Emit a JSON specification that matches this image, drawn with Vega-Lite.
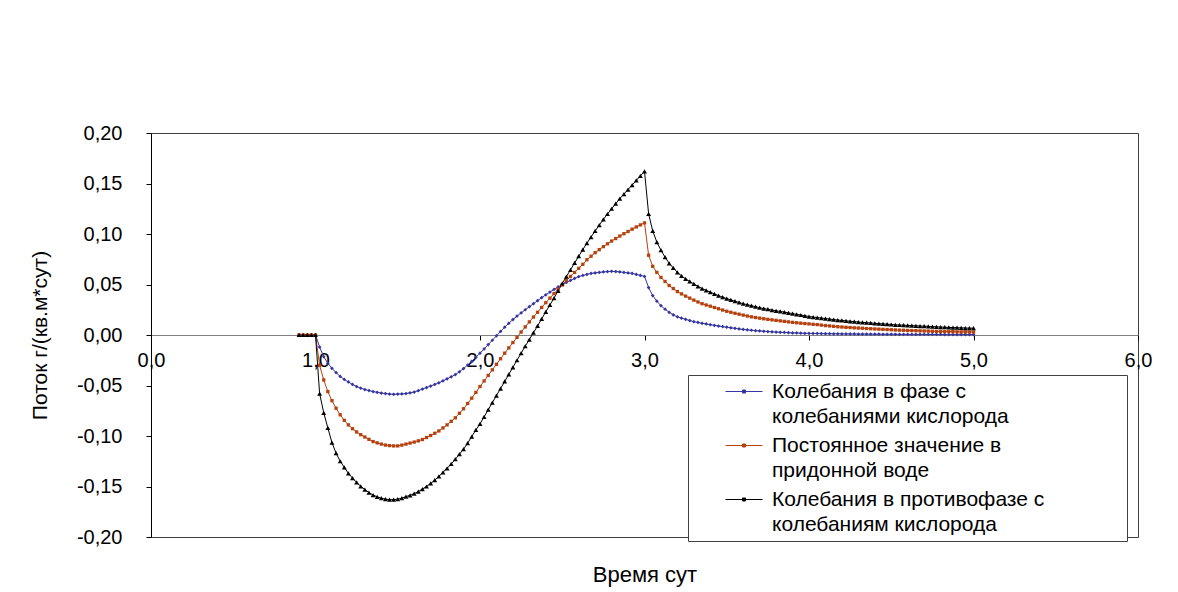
{
"$schema": "https://vega.github.io/schema/vega-lite/v6.json",
"width": 987,
"height": 404,
"autosize": "none",
"padding": {"left": 151, "top": 133, "right": 40, "bottom": 55},
"background": "white",
"config": {"font": "Liberation Sans", "view": {"stroke": "#404040", "strokeWidth": 1}},
"data": {"values": [
{"t":0.9,"s":"A","v":0},{"t":0.925,"s":"A","v":0},{"t":0.95,"s":"A","v":0},{"t":0.975,"s":"A","v":0},{"t":1,"s":"A","v":0},
{"t":1.025,"s":"A","v":-0.012},{"t":1.05,"s":"A","v":-0.0215},{"t":1.075,"s":"A","v":-0.028},{"t":1.1,"s":"A","v":-0.033},{"t":1.125,"s":"A","v":-0.0372},{"t":1.15,"s":"A","v":-0.041},{"t":1.175,"s":"A","v":-0.044},{"t":1.2,"s":"A","v":-0.0465},{"t":1.225,"s":"A","v":-0.049},{"t":1.25,"s":"A","v":-0.051},{"t":1.275,"s":"A","v":-0.0527},{"t":1.3,"s":"A","v":-0.054},{"t":1.325,"s":"A","v":-0.055},{"t":1.35,"s":"A","v":-0.056},{"t":1.375,"s":"A","v":-0.0568},{"t":1.4,"s":"A","v":-0.0575},{"t":1.425,"s":"A","v":-0.058},{"t":1.45,"s":"A","v":-0.0585},{"t":1.475,"s":"A","v":-0.0587},{"t":1.5,"s":"A","v":-0.0585},{"t":1.525,"s":"A","v":-0.0583},{"t":1.55,"s":"A","v":-0.058},{"t":1.575,"s":"A","v":-0.0573},{"t":1.6,"s":"A","v":-0.0565},{"t":1.625,"s":"A","v":-0.0551},{"t":1.65,"s":"A","v":-0.0535},{"t":1.675,"s":"A","v":-0.052},{"t":1.7,"s":"A","v":-0.0505},{"t":1.725,"s":"A","v":-0.049},{"t":1.75,"s":"A","v":-0.0473},{"t":1.775,"s":"A","v":-0.0454},{"t":1.8,"s":"A","v":-0.0434},{"t":1.825,"s":"A","v":-0.0414},{"t":1.85,"s":"A","v":-0.0392},{"t":1.875,"s":"A","v":-0.0364},{"t":1.9,"s":"A","v":-0.0332},{"t":1.925,"s":"A","v":-0.0297},{"t":1.95,"s":"A","v":-0.026},{"t":1.975,"s":"A","v":-0.0221},{"t":2,"s":"A","v":-0.018},{"t":2.025,"s":"A","v":-0.0138},{"t":2.05,"s":"A","v":-0.0095},{"t":2.075,"s":"A","v":-0.0052},{"t":2.1,"s":"A","v":-0.0008},{"t":2.125,"s":"A","v":0.0035},{"t":2.15,"s":"A","v":0.0077},{"t":2.175,"s":"A","v":0.0116},{"t":2.2,"s":"A","v":0.0153},{"t":2.225,"s":"A","v":0.0187},{"t":2.25,"s":"A","v":0.0219},{"t":2.275,"s":"A","v":0.025},{"t":2.3,"s":"A","v":0.028},{"t":2.325,"s":"A","v":0.031},{"t":2.35,"s":"A","v":0.034},{"t":2.375,"s":"A","v":0.037},{"t":2.4,"s":"A","v":0.0398},{"t":2.425,"s":"A","v":0.0425},{"t":2.45,"s":"A","v":0.0451},{"t":2.475,"s":"A","v":0.0476},{"t":2.5,"s":"A","v":0.05},{"t":2.525,"s":"A","v":0.052},{"t":2.55,"s":"A","v":0.054},{"t":2.575,"s":"A","v":0.056},{"t":2.6,"s":"A","v":0.0578},{"t":2.625,"s":"A","v":0.059},{"t":2.65,"s":"A","v":0.06},{"t":2.675,"s":"A","v":0.061},{"t":2.7,"s":"A","v":0.0615},{"t":2.725,"s":"A","v":0.062},{"t":2.75,"s":"A","v":0.0625},{"t":2.775,"s":"A","v":0.0628},{"t":2.8,"s":"A","v":0.063},{"t":2.825,"s":"A","v":0.0628},{"t":2.85,"s":"A","v":0.0625},{"t":2.875,"s":"A","v":0.062},{"t":2.9,"s":"A","v":0.0615},{"t":2.925,"s":"A","v":0.061},{"t":2.95,"s":"A","v":0.06},{"t":2.975,"s":"A","v":0.059},{"t":3,"s":"A","v":0.058},
{"t":3.025,"s":"A","v":0.047},{"t":3.05,"s":"A","v":0.039},{"t":3.075,"s":"A","v":0.0335},{"t":3.1,"s":"A","v":0.029},{"t":3.125,"s":"A","v":0.0255},{"t":3.15,"s":"A","v":0.0225},{"t":3.175,"s":"A","v":0.02},{"t":3.2,"s":"A","v":0.018},{"t":3.225,"s":"A","v":0.0167},{"t":3.25,"s":"A","v":0.0155},{"t":3.275,"s":"A","v":0.0143},{"t":3.3,"s":"A","v":0.0132},{"t":3.325,"s":"A","v":0.0124},{"t":3.35,"s":"A","v":0.0116},{"t":3.375,"s":"A","v":0.0109},{"t":3.4,"s":"A","v":0.0102},{"t":3.425,"s":"A","v":0.0095},{"t":3.45,"s":"A","v":0.0089},{"t":3.475,"s":"A","v":0.0083},{"t":3.5,"s":"A","v":0.0077},{"t":3.525,"s":"A","v":0.0071},{"t":3.55,"s":"A","v":0.0066},{"t":3.575,"s":"A","v":0.006},{"t":3.6,"s":"A","v":0.0055},{"t":3.625,"s":"A","v":0.0051},{"t":3.65,"s":"A","v":0.0047},{"t":3.675,"s":"A","v":0.0043},{"t":3.7,"s":"A","v":0.004},{"t":3.725,"s":"A","v":0.0037},{"t":3.75,"s":"A","v":0.0034},{"t":3.775,"s":"A","v":0.0031},{"t":3.8,"s":"A","v":0.0029},{"t":3.825,"s":"A","v":0.0027},{"t":3.85,"s":"A","v":0.0025},{"t":3.875,"s":"A","v":0.0023},{"t":3.9,"s":"A","v":0.0021},{"t":3.925,"s":"A","v":0.002},{"t":3.95,"s":"A","v":0.0018},{"t":3.975,"s":"A","v":0.0017},{"t":4,"s":"A","v":0.0016},{"t":4.025,"s":"A","v":0.0015},{"t":4.05,"s":"A","v":0.0015},{"t":4.075,"s":"A","v":0.0014},{"t":4.1,"s":"A","v":0.0013},{"t":4.125,"s":"A","v":0.0013},{"t":4.15,"s":"A","v":0.0012},{"t":4.175,"s":"A","v":0.0012},{"t":4.2,"s":"A","v":0.0011},{"t":4.225,"s":"A","v":0.0011},{"t":4.25,"s":"A","v":0.001},{"t":4.275,"s":"A","v":0.001},{"t":4.3,"s":"A","v":0.0009},{"t":4.325,"s":"A","v":0.0009},{"t":4.35,"s":"A","v":0.0009},{"t":4.375,"s":"A","v":0.0008},{"t":4.4,"s":"A","v":0.0008},{"t":4.425,"s":"A","v":0.0008},{"t":4.45,"s":"A","v":0.0007},{"t":4.475,"s":"A","v":0.0007},{"t":4.5,"s":"A","v":0.0007},{"t":4.525,"s":"A","v":0.0007},{"t":4.55,"s":"A","v":0.0006},{"t":4.575,"s":"A","v":0.0006},{"t":4.6,"s":"A","v":0.0006},{"t":4.625,"s":"A","v":0.0006},{"t":4.65,"s":"A","v":0.0005},{"t":4.675,"s":"A","v":0.0005},{"t":4.7,"s":"A","v":0.0005},{"t":4.725,"s":"A","v":0.0005},{"t":4.75,"s":"A","v":0.0005},{"t":4.775,"s":"A","v":0.0005},{"t":4.8,"s":"A","v":0.0005},{"t":4.825,"s":"A","v":0.0004},{"t":4.85,"s":"A","v":0.0004},{"t":4.875,"s":"A","v":0.0004},{"t":4.9,"s":"A","v":0.0004},{"t":4.925,"s":"A","v":0.0004},{"t":4.95,"s":"A","v":0.0004},{"t":4.975,"s":"A","v":0.0004},{"t":5,"s":"A","v":0.0004},
{"t":0.9,"s":"B","v":0},{"t":0.925,"s":"B","v":0},{"t":0.95,"s":"B","v":0},{"t":0.975,"s":"B","v":0},{"t":1,"s":"B","v":0},
{"t":1.025,"s":"B","v":-0.03},{"t":1.05,"s":"B","v":-0.0445},{"t":1.075,"s":"B","v":-0.056},{"t":1.1,"s":"B","v":-0.065},{"t":1.125,"s":"B","v":-0.0725},{"t":1.15,"s":"B","v":-0.079},{"t":1.175,"s":"B","v":-0.0845},{"t":1.2,"s":"B","v":-0.089},{"t":1.225,"s":"B","v":-0.0928},{"t":1.25,"s":"B","v":-0.096},{"t":1.275,"s":"B","v":-0.0987},{"t":1.3,"s":"B","v":-0.101},{"t":1.325,"s":"B","v":-0.1033},{"t":1.35,"s":"B","v":-0.1055},{"t":1.375,"s":"B","v":-0.1068},{"t":1.4,"s":"B","v":-0.108},{"t":1.425,"s":"B","v":-0.109},{"t":1.45,"s":"B","v":-0.1095},{"t":1.475,"s":"B","v":-0.1098},{"t":1.5,"s":"B","v":-0.1098},{"t":1.525,"s":"B","v":-0.109},{"t":1.55,"s":"B","v":-0.108},{"t":1.575,"s":"B","v":-0.107},{"t":1.6,"s":"B","v":-0.106},{"t":1.625,"s":"B","v":-0.1048},{"t":1.65,"s":"B","v":-0.1035},{"t":1.675,"s":"B","v":-0.1015},{"t":1.7,"s":"B","v":-0.0995},{"t":1.725,"s":"B","v":-0.0973},{"t":1.75,"s":"B","v":-0.095},{"t":1.775,"s":"B","v":-0.092},{"t":1.8,"s":"B","v":-0.089},{"t":1.825,"s":"B","v":-0.0855},{"t":1.85,"s":"B","v":-0.082},{"t":1.875,"s":"B","v":-0.0775},{"t":1.9,"s":"B","v":-0.073},{"t":1.925,"s":"B","v":-0.0678},{"t":1.95,"s":"B","v":-0.0625},{"t":1.975,"s":"B","v":-0.0568},{"t":2,"s":"B","v":-0.051},{"t":2.025,"s":"B","v":-0.0455},{"t":2.05,"s":"B","v":-0.04},{"t":2.075,"s":"B","v":-0.0345},{"t":2.1,"s":"B","v":-0.029},{"t":2.125,"s":"B","v":-0.0235},{"t":2.15,"s":"B","v":-0.018},{"t":2.175,"s":"B","v":-0.0128},{"t":2.2,"s":"B","v":-0.0075},{"t":2.225,"s":"B","v":-0.0023},{"t":2.25,"s":"B","v":0.003},{"t":2.275,"s":"B","v":0.008},{"t":2.3,"s":"B","v":0.013},{"t":2.325,"s":"B","v":0.0178},{"t":2.35,"s":"B","v":0.0225},{"t":2.375,"s":"B","v":0.0273},{"t":2.4,"s":"B","v":0.032},{"t":2.425,"s":"B","v":0.0365},{"t":2.45,"s":"B","v":0.041},{"t":2.475,"s":"B","v":0.0453},{"t":2.5,"s":"B","v":0.0495},{"t":2.525,"s":"B","v":0.0538},{"t":2.55,"s":"B","v":0.058},{"t":2.575,"s":"B","v":0.062},{"t":2.6,"s":"B","v":0.066},{"t":2.625,"s":"B","v":0.07},{"t":2.65,"s":"B","v":0.0745},{"t":2.675,"s":"B","v":0.078},{"t":2.7,"s":"B","v":0.0815},{"t":2.725,"s":"B","v":0.0845},{"t":2.75,"s":"B","v":0.0875},{"t":2.775,"s":"B","v":0.0903},{"t":2.8,"s":"B","v":0.093},{"t":2.825,"s":"B","v":0.0955},{"t":2.85,"s":"B","v":0.098},{"t":2.875,"s":"B","v":0.1003},{"t":2.9,"s":"B","v":0.1025},{"t":2.925,"s":"B","v":0.1048},{"t":2.95,"s":"B","v":0.107},{"t":2.975,"s":"B","v":0.109},{"t":3,"s":"B","v":0.111},
{"t":3.025,"s":"B","v":0.079},{"t":3.05,"s":"B","v":0.068},{"t":3.075,"s":"B","v":0.062},{"t":3.1,"s":"B","v":0.057},{"t":3.125,"s":"B","v":0.053},{"t":3.15,"s":"B","v":0.049},{"t":3.175,"s":"B","v":0.046},{"t":3.2,"s":"B","v":0.043},{"t":3.225,"s":"B","v":0.0407},{"t":3.25,"s":"B","v":0.0385},{"t":3.275,"s":"B","v":0.0365},{"t":3.3,"s":"B","v":0.0345},{"t":3.325,"s":"B","v":0.0327},{"t":3.35,"s":"B","v":0.031},{"t":3.375,"s":"B","v":0.0297},{"t":3.4,"s":"B","v":0.0285},{"t":3.425,"s":"B","v":0.0272},{"t":3.45,"s":"B","v":0.026},{"t":3.475,"s":"B","v":0.0247},{"t":3.5,"s":"B","v":0.0235},{"t":3.525,"s":"B","v":0.0225},{"t":3.55,"s":"B","v":0.0215},{"t":3.575,"s":"B","v":0.0206},{"t":3.6,"s":"B","v":0.0197},{"t":3.625,"s":"B","v":0.0188},{"t":3.65,"s":"B","v":0.018},{"t":3.675,"s":"B","v":0.0173},{"t":3.7,"s":"B","v":0.0167},{"t":3.725,"s":"B","v":0.0161},{"t":3.75,"s":"B","v":0.0155},{"t":3.775,"s":"B","v":0.015},{"t":3.8,"s":"B","v":0.0145},{"t":3.825,"s":"B","v":0.014},{"t":3.85,"s":"B","v":0.0135},{"t":3.875,"s":"B","v":0.013},{"t":3.9,"s":"B","v":0.0125},{"t":3.925,"s":"B","v":0.0121},{"t":3.95,"s":"B","v":0.0117},{"t":3.975,"s":"B","v":0.0113},{"t":4,"s":"B","v":0.011},{"t":4.025,"s":"B","v":0.0106},{"t":4.05,"s":"B","v":0.0103},{"t":4.075,"s":"B","v":0.0098},{"t":4.1,"s":"B","v":0.0093},{"t":4.125,"s":"B","v":0.009},{"t":4.15,"s":"B","v":0.0086},{"t":4.175,"s":"B","v":0.0082},{"t":4.2,"s":"B","v":0.0079},{"t":4.225,"s":"B","v":0.0076},{"t":4.25,"s":"B","v":0.0074},{"t":4.275,"s":"B","v":0.0071},{"t":4.3,"s":"B","v":0.0069},{"t":4.325,"s":"B","v":0.0067},{"t":4.35,"s":"B","v":0.0064},{"t":4.375,"s":"B","v":0.0062},{"t":4.4,"s":"B","v":0.006},{"t":4.425,"s":"B","v":0.0058},{"t":4.45,"s":"B","v":0.0056},{"t":4.475,"s":"B","v":0.0054},{"t":4.5,"s":"B","v":0.0052},{"t":4.525,"s":"B","v":0.005},{"t":4.55,"s":"B","v":0.0048},{"t":4.575,"s":"B","v":0.0047},{"t":4.6,"s":"B","v":0.0045},{"t":4.625,"s":"B","v":0.0044},{"t":4.65,"s":"B","v":0.0043},{"t":4.675,"s":"B","v":0.0041},{"t":4.7,"s":"B","v":0.004},{"t":4.725,"s":"B","v":0.0039},{"t":4.75,"s":"B","v":0.0037},{"t":4.775,"s":"B","v":0.0036},{"t":4.8,"s":"B","v":0.0035},{"t":4.825,"s":"B","v":0.0034},{"t":4.85,"s":"B","v":0.0034},{"t":4.875,"s":"B","v":0.0033},{"t":4.9,"s":"B","v":0.0032},{"t":4.925,"s":"B","v":0.0031},{"t":4.95,"s":"B","v":0.0031},{"t":4.975,"s":"B","v":0.003},{"t":5,"s":"B","v":0.003},
{"t":0.9,"s":"C","v":0},{"t":0.925,"s":"C","v":0},{"t":0.95,"s":"C","v":0},{"t":0.975,"s":"C","v":0},{"t":1,"s":"C","v":0},
{"t":1.025,"s":"C","v":-0.058},{"t":1.05,"s":"C","v":-0.077},{"t":1.075,"s":"C","v":-0.092},{"t":1.1,"s":"C","v":-0.1065},{"t":1.125,"s":"C","v":-0.117},{"t":1.15,"s":"C","v":-0.125},{"t":1.175,"s":"C","v":-0.131},{"t":1.2,"s":"C","v":-0.137},{"t":1.225,"s":"C","v":-0.1418},{"t":1.25,"s":"C","v":-0.146},{"t":1.275,"s":"C","v":-0.1498},{"t":1.3,"s":"C","v":-0.153},{"t":1.325,"s":"C","v":-0.156},{"t":1.35,"s":"C","v":-0.1585},{"t":1.375,"s":"C","v":-0.1602},{"t":1.4,"s":"C","v":-0.1615},{"t":1.425,"s":"C","v":-0.1625},{"t":1.45,"s":"C","v":-0.163},{"t":1.475,"s":"C","v":-0.163},{"t":1.5,"s":"C","v":-0.1625},{"t":1.525,"s":"C","v":-0.1615},{"t":1.55,"s":"C","v":-0.16},{"t":1.575,"s":"C","v":-0.1587},{"t":1.6,"s":"C","v":-0.157},{"t":1.625,"s":"C","v":-0.155},{"t":1.65,"s":"C","v":-0.1525},{"t":1.675,"s":"C","v":-0.15},{"t":1.7,"s":"C","v":-0.147},{"t":1.725,"s":"C","v":-0.1437},{"t":1.75,"s":"C","v":-0.14},{"t":1.775,"s":"C","v":-0.136},{"t":1.8,"s":"C","v":-0.132},{"t":1.825,"s":"C","v":-0.1277},{"t":1.85,"s":"C","v":-0.123},{"t":1.875,"s":"C","v":-0.118},{"t":1.9,"s":"C","v":-0.113},{"t":1.925,"s":"C","v":-0.107},{"t":1.95,"s":"C","v":-0.1005},{"t":1.975,"s":"C","v":-0.094},{"t":2,"s":"C","v":-0.088},{"t":2.025,"s":"C","v":-0.081},{"t":2.05,"s":"C","v":-0.074},{"t":2.075,"s":"C","v":-0.067},{"t":2.1,"s":"C","v":-0.06},{"t":2.125,"s":"C","v":-0.053},{"t":2.15,"s":"C","v":-0.046},{"t":2.175,"s":"C","v":-0.039},{"t":2.2,"s":"C","v":-0.032},{"t":2.225,"s":"C","v":-0.025},{"t":2.25,"s":"C","v":-0.018},{"t":2.275,"s":"C","v":-0.011},{"t":2.3,"s":"C","v":-0.0045},{"t":2.325,"s":"C","v":0.0023},{"t":2.35,"s":"C","v":0.009},{"t":2.375,"s":"C","v":0.016},{"t":2.4,"s":"C","v":0.023},{"t":2.425,"s":"C","v":0.0298},{"t":2.45,"s":"C","v":0.0365},{"t":2.475,"s":"C","v":0.0438},{"t":2.5,"s":"C","v":0.051},{"t":2.525,"s":"C","v":0.0578},{"t":2.55,"s":"C","v":0.0645},{"t":2.575,"s":"C","v":0.0713},{"t":2.6,"s":"C","v":0.078},{"t":2.625,"s":"C","v":0.0845},{"t":2.65,"s":"C","v":0.091},{"t":2.675,"s":"C","v":0.097},{"t":2.7,"s":"C","v":0.103},{"t":2.725,"s":"C","v":0.1088},{"t":2.75,"s":"C","v":0.1145},{"t":2.775,"s":"C","v":0.1198},{"t":2.8,"s":"C","v":0.125},{"t":2.825,"s":"C","v":0.13},{"t":2.85,"s":"C","v":0.135},{"t":2.875,"s":"C","v":0.1395},{"t":2.9,"s":"C","v":0.144},{"t":2.925,"s":"C","v":0.1485},{"t":2.95,"s":"C","v":0.153},{"t":2.975,"s":"C","v":0.1575},{"t":3,"s":"C","v":0.162},
{"t":3.025,"s":"C","v":0.12},{"t":3.05,"s":"C","v":0.103},{"t":3.075,"s":"C","v":0.092},{"t":3.1,"s":"C","v":0.084},{"t":3.125,"s":"C","v":0.077},{"t":3.15,"s":"C","v":0.071},{"t":3.175,"s":"C","v":0.0665},{"t":3.2,"s":"C","v":0.062},{"t":3.225,"s":"C","v":0.0585},{"t":3.25,"s":"C","v":0.0555},{"t":3.275,"s":"C","v":0.053},{"t":3.3,"s":"C","v":0.0505},{"t":3.325,"s":"C","v":0.0482},{"t":3.35,"s":"C","v":0.046},{"t":3.375,"s":"C","v":0.0442},{"t":3.4,"s":"C","v":0.0425},{"t":3.425,"s":"C","v":0.0407},{"t":3.45,"s":"C","v":0.039},{"t":3.475,"s":"C","v":0.0375},{"t":3.5,"s":"C","v":0.036},{"t":3.525,"s":"C","v":0.0347},{"t":3.55,"s":"C","v":0.0335},{"t":3.575,"s":"C","v":0.0322},{"t":3.6,"s":"C","v":0.031},{"t":3.625,"s":"C","v":0.03},{"t":3.65,"s":"C","v":0.029},{"t":3.675,"s":"C","v":0.028},{"t":3.7,"s":"C","v":0.027},{"t":3.725,"s":"C","v":0.0262},{"t":3.75,"s":"C","v":0.0255},{"t":3.775,"s":"C","v":0.0247},{"t":3.8,"s":"C","v":0.024},{"t":3.825,"s":"C","v":0.0233},{"t":3.85,"s":"C","v":0.0227},{"t":3.875,"s":"C","v":0.0219},{"t":3.9,"s":"C","v":0.0212},{"t":3.925,"s":"C","v":0.0205},{"t":3.95,"s":"C","v":0.0198},{"t":3.975,"s":"C","v":0.019},{"t":4,"s":"C","v":0.0183},{"t":4.025,"s":"C","v":0.0178},{"t":4.05,"s":"C","v":0.0173},{"t":4.075,"s":"C","v":0.0168},{"t":4.1,"s":"C","v":0.0163},{"t":4.125,"s":"C","v":0.0158},{"t":4.15,"s":"C","v":0.0153},{"t":4.175,"s":"C","v":0.0148},{"t":4.2,"s":"C","v":0.0144},{"t":4.225,"s":"C","v":0.014},{"t":4.25,"s":"C","v":0.0136},{"t":4.275,"s":"C","v":0.0132},{"t":4.3,"s":"C","v":0.0128},{"t":4.325,"s":"C","v":0.0125},{"t":4.35,"s":"C","v":0.0122},{"t":4.375,"s":"C","v":0.0119},{"t":4.4,"s":"C","v":0.0116},{"t":4.425,"s":"C","v":0.0113},{"t":4.45,"s":"C","v":0.011},{"t":4.475,"s":"C","v":0.0107},{"t":4.5,"s":"C","v":0.0104},{"t":4.525,"s":"C","v":0.0101},{"t":4.55,"s":"C","v":0.0099},{"t":4.575,"s":"C","v":0.0097},{"t":4.6,"s":"C","v":0.0095},{"t":4.625,"s":"C","v":0.0093},{"t":4.65,"s":"C","v":0.0091},{"t":4.675,"s":"C","v":0.0089},{"t":4.7,"s":"C","v":0.0087},{"t":4.725,"s":"C","v":0.0085},{"t":4.75,"s":"C","v":0.0083},{"t":4.775,"s":"C","v":0.0081},{"t":4.8,"s":"C","v":0.0079},{"t":4.825,"s":"C","v":0.0077},{"t":4.85,"s":"C","v":0.0075},{"t":4.875,"s":"C","v":0.0074},{"t":4.9,"s":"C","v":0.0072},{"t":4.925,"s":"C","v":0.0071},{"t":4.95,"s":"C","v":0.0069},{"t":4.975,"s":"C","v":0.0068},{"t":5,"s":"C","v":0.0067}
]},
"encoding": {
  "x": {"field": "t", "type": "quantitative",
    "scale": {"domain": [0, 6], "nice": false},
    "axis": {"values": [0,1,2,3,4,5,6], "offset": -202, "grid": false,
      "domainColor": "#808080", "tickColor": "#000000", "tickSize": 5,
      "labelExpr": "replace(format(datum.value, '.1f'), '.', ',')",
      "labelFontSize": 20, "labelColor": "#000000", "labelPadding": 10, "labelFlush": false, "labelOverlap": false,
      "title": "Время сут", "titleFontSize": 22, "titleFontWeight": "normal", "titleColor": "#000000", "titlePadding": 194}},
  "y": {"field": "v", "type": "quantitative",
    "scale": {"domain": [-0.2, 0.2], "nice": false},
    "axis": {"values": [-0.2,-0.15,-0.1,-0.05,0,0.05,0.1,0.15,0.2], "grid": false,
      "domainColor": "#000000", "tickColor": "#000000", "tickSize": 5,
      "labelExpr": "(datum.value < 0 ? '-' : '') + replace(format(abs(datum.value), '.2f'), '.', ',')",
      "labelFontSize": 20, "labelColor": "#000000", "labelPadding": 24,
      "title": "Поток г/(кв.м*сут)", "titleFontSize": 21, "titleFontWeight": "normal", "titleColor": "#000000", "titlePadding": 26}}
},
"layer": [
  {"mark": {"type": "line", "strokeWidth": 1, "clip": false},
   "encoding": {
     "color": {"field": "s", "type": "nominal",
       "scale": {"domain": ["A","B","C"], "range": ["#3535A0","#B5410E","#000000"]},
       "legend": {"orient": "none", "legendX": 537, "legendY": 242, "title": null,
         "fillColor": "white", "strokeColor": "#404040", "padding": 6,
         "symbolType": "M-3.7,0H3.7M-0.3,-0.3H0.3V0.3H-0.3Z", "symbolSize": 100, "symbolStrokeWidth": 1, "symbolOffset": 39.5,
         "labelFontSize": 21, "labelColor": "#000000", "labelLimit": 0, "labelOffset": 17.5, "rowPadding": 7,
         "labelExpr": "datum.label == 'A' ? ['Колебания в фазе с', 'колебаниями кислорода'] : datum.label == 'B' ? ['Постоянное значение в', 'придонной воде'] : ['Колебания в противофазе с\u00a0\u00a0\u00a0\u00a0\u00a0\u00a0\u00a0\u00a0\u00a0\u00a0\u00a0\u00a0\u00a0\u200b', 'колебаниям кислорода']",
         "encode": {"labels": {"update": {"lineHeight": {"value": 25}}},
                    "symbols": {"update": {"fill": {"field": "value", "scale": "color"}}}}}}}},
  {"transform": [{"filter": "datum.s == 'A'"}],
   "mark": {"type": "point", "filled": true, "opacity": 1, "shape": "diamond", "size": 14, "color": "#3535A0"}},
  {"transform": [{"filter": "datum.s == 'B'"}],
   "mark": {"type": "point", "filled": true, "opacity": 1, "shape": "square", "size": 11, "color": "#B5410E"}},
  {"transform": [{"filter": "datum.s == 'C'"}],
   "mark": {"type": "point", "filled": true, "opacity": 1, "shape": "triangle-up", "size": 24, "color": "#000000"}}
]
}
